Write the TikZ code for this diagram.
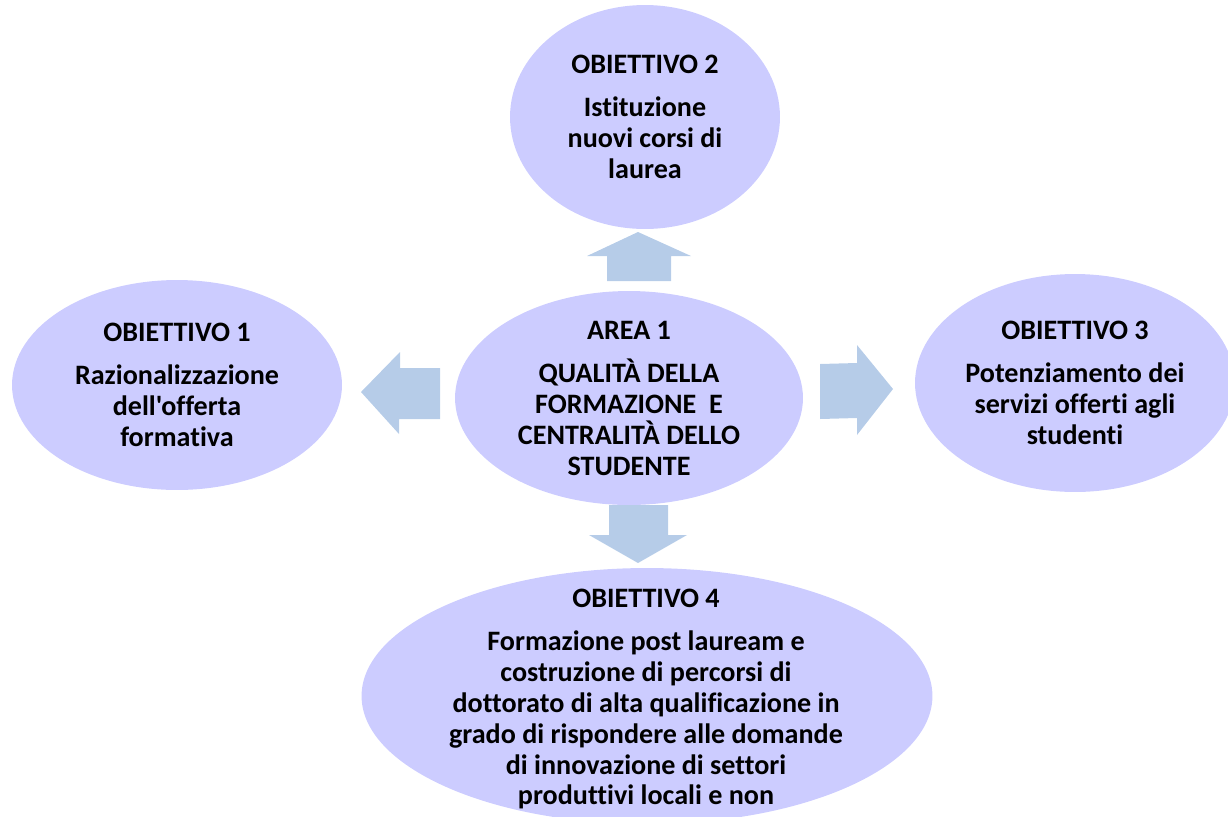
\documentclass[tikz,border=0pt]{standalone}
\usepackage{fontspec}
\newfontfamily\carlito{Carlito}[RawFeature={-liga;-clig}]
\usetikzlibrary{shapes.geometric}

\definecolor{ovalfill}{HTML}{CCCCFF}
\definecolor{arrowfill}{HTML}{B6CCE8}

\begin{document}
\begin{tikzpicture}[x=0.02cm, y=-0.02cm,
 			      oval/.style={ellipse, fill=ovalfill, inner sep=0pt},
 			      ovaltext/.style={align=center, inner sep=0pt,
 			                   font=\carlito\fontsize{16}{17.6}\selectfont\bfseries},
 			      blockarrow/.style={fill=arrowfill}]
    \useasboundingbox (0,0) rectangle (1228,816);
    \clip (0,0) rectangle (1228,816);

    % block arrows
    \fill[blockarrow] (607,281) -- (607,256) -- (587,256) -- (638,232)
    	-- (691,256) -- (671,256) -- (671,281) -- cycle;
    \fill[blockarrow] (440,368) -- (400,368) -- (400,352) -- (361,392)
    	-- (399,434) -- (399,419) -- (440,419) -- cycle;
    \fill[blockarrow] (820,364) -- (857,363) -- (857,345) -- (893,389)
    	-- (857,435) -- (857,418) -- (820,419) -- cycle;
    \fill[blockarrow] (609,505) -- (668,505) -- (668,535) -- (687,535)
    	-- (638,563) -- (589,535) -- (609,535) -- cycle;

    % ovals
    \node[oval, minimum width=6.96cm, minimum height=4.28cm] (area) at (629,398) {};
    \node[oval, minimum width=5.4cm, minimum height=4.48cm] (obtwo) at (645,117) {};
    \node[oval, minimum width=6.6cm, minimum height=4.2cm] (obone) at (177,385) {};
    \node[oval, minimum width=6.4cm, minimum height=4.36cm] (obthree) at (1075,383) {};
    \node[oval, minimum width=11.42cm, minimum height=5.12cm] (obfour) at (647,696) {};

    \node[ovaltext] (areatext) at (area)
    	{AREA 1\\[7pt] QUALITÀ DELLA\\ FORMAZIONE~~E\\ CENTRALITÀ DELLO\\ STUDENTE};
    \node[ovaltext] (obtwotext) at (obtwo)
    	{OBIETTIVO 2\\[7pt] Istituzione\\ nuovi corsi di\\ laurea};
    \node[ovaltext] (obonetext) at (obone)
    	{OBIETTIVO 1\\[7pt] Razionalizzazione\\ dell'offerta\\ formativa};
    \node[ovaltext] (obthreetext) at (obthree)
    	{OBIETTIVO 3\\[7pt] Potenziamento dei\\ servizi offerti agli\\ studenti};
    \node[ovaltext] (obfourtext) at (646,699)
    	{OBIETTIVO 4\\[7pt] Formazione post lauream e\\ costruzione di percorsi di\\
    	 dottorato di alta qualificazione in\\ grado di rispondere alle domande\\
    	 di innovazione di settori\\ produttivi locali e non};

\end{tikzpicture}
\end{document}
